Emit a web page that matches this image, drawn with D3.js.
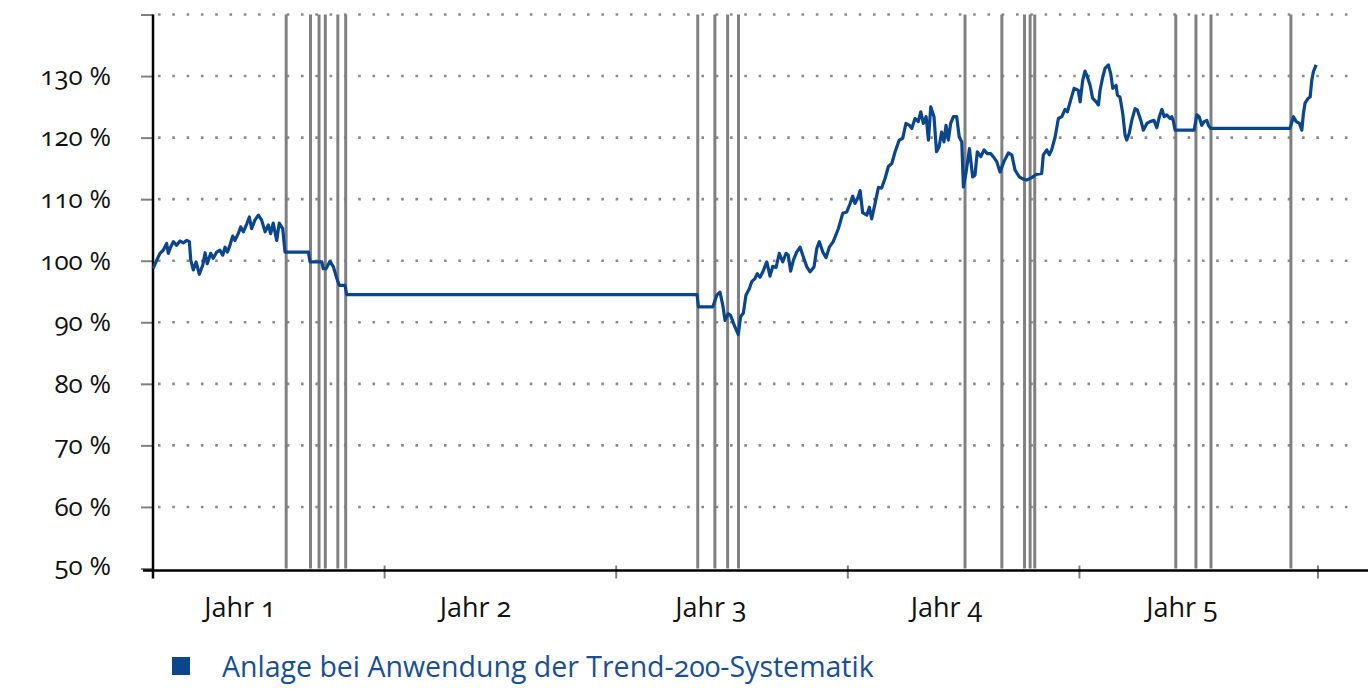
<!DOCTYPE html>
<html>
<head>
<meta charset="utf-8">
<script src="https://cdn.jsdelivr.net/npm/d3@7/dist/d3.min.js"></script>
<style>
    body { margin: 0; background: #fff; }
    text { font-family: "Open Sans", sans-serif; font-variant-numeric: oldstyle-nums; }
</style>
</head>
<body>
<div id="corpo"></div>
<script>
// rótulos e dados
var yearLabels = ["Jahr 1", "Jahr 2", "Jahr 3", "Jahr 4", "Jahr 5"];
var yearTicks = [0, 1, 2, 3, 4, 5.03];
var yTicks = [50, 60, 70, 80, 90, 100, 110, 120, 130, 140];
var legendLabel = "Anlage bei Anwendung der Trend-200-Systematik";

// Signale (Zeitpunkt in Jahren)
var signals = [0.575, 0.680, 0.717, 0.744, 0.798, 0.832,
    2.352, 2.426, 2.481, 2.528,
    3.506, 3.665, 3.763, 3.787, 3.807,
    4.416, 4.503, 4.568, 4.913];

// Anlage in % (Jahr, Wert)
var anlage = [
    [0.000, 98.7], [0.013, 99.8], [0.030, 101.2], [0.044, 101.7], [0.059, 102.8], [0.066, 101.2],
    [0.076, 102.2], [0.088, 103.1], [0.102, 102.5], [0.117, 103.2], [0.131, 102.9], [0.146, 103.3],
    [0.157, 103.1], [0.163, 100.1], [0.174, 98.5], [0.186, 99.8], [0.200, 97.8], [0.215, 99.3],
    [0.225, 101.3], [0.234, 99.5], [0.249, 101.2], [0.260, 100.4], [0.275, 101.4], [0.289, 101.7],
    [0.301, 100.9], [0.311, 102.2], [0.321, 101.4], [0.332, 102.5], [0.344, 104.0], [0.354, 103.3],
    [0.368, 104.4], [0.379, 105.5], [0.390, 104.7], [0.405, 106.0], [0.416, 107.1], [0.426, 105.2],
    [0.440, 106.6], [0.455, 107.4], [0.469, 106.6], [0.484, 104.7], [0.498, 105.8], [0.508, 104.4],
    [0.519, 106.1], [0.534, 103.3], [0.545, 106.1], [0.560, 105.2], [0.570, 101.4],
    [0.671, 101.4], [0.678, 99.8], [0.729, 99.8], [0.735, 98.7], [0.747, 98.7], [0.764, 99.9],
    [0.779, 99.0], [0.793, 97.2], [0.804, 96.0], [0.829, 96.0], [0.836, 94.5],
    [2.349, 94.5], [2.355, 92.5], [2.417, 92.5],
    [2.434, 94.4], [2.448, 94.9], [2.460, 92.8], [2.470, 90.3], [2.484, 91.4], [2.494, 91.1],
    [2.513, 89.2], [2.527, 88.0], [2.537, 90.9], [2.549, 91.5], [2.560, 94.4], [2.575, 95.5],
    [2.585, 96.6], [2.599, 97.1], [2.609, 97.9], [2.621, 97.3], [2.633, 98.2], [2.650, 99.8],
    [2.664, 97.5], [2.676, 99.1], [2.690, 98.9], [2.704, 101.2], [2.719, 99.8], [2.733, 101.2],
    [2.743, 100.9], [2.753, 98.3], [2.765, 100.1], [2.779, 101.4], [2.794, 102.2], [2.808, 100.6],
    [2.823, 99.0], [2.837, 98.2], [2.854, 99.0], [2.866, 102.0], [2.877, 103.1], [2.892, 101.4],
    [2.906, 100.5], [2.920, 102.2], [2.937, 103.1], [2.959, 105.2], [2.978, 107.7], [2.995, 107.9],
    [3.010, 109.3], [3.021, 110.5], [3.031, 109.3], [3.045, 110.4], [3.053, 111.4], [3.064, 107.8],
    [3.082, 107.4], [3.093, 108.7], [3.103, 106.8], [3.117, 109.2], [3.132, 111.9], [3.146, 111.8],
    [3.161, 113.4], [3.175, 115.3], [3.190, 115.8], [3.204, 117.7], [3.222, 119.6], [3.237, 119.9],
    [3.251, 122.3], [3.266, 122.0], [3.276, 121.5], [3.290, 123.1], [3.304, 122.6], [3.315, 124.2],
    [3.326, 122.3], [3.338, 123.4], [3.348, 119.6], [3.358, 125.0], [3.372, 123.4], [3.383, 117.7],
    [3.394, 118.5], [3.405, 120.9], [3.415, 119.3], [3.424, 122.0], [3.434, 119.6], [3.444, 122.3],
    [3.456, 123.4], [3.470, 123.4], [3.481, 120.1], [3.492, 119.3], [3.499, 112.0], [3.510, 114.2],
    [3.525, 118.2], [3.539, 113.6], [3.549, 113.9], [3.559, 117.7], [3.574, 116.9], [3.588, 118.0],
    [3.602, 117.4], [3.617, 117.4], [3.628, 116.9], [3.643, 116.1], [3.657, 114.4], [3.674, 116.1],
    [3.693, 117.5], [3.708, 117.2], [3.722, 114.7], [3.741, 113.6], [3.755, 113.3], [3.772, 113.1],
    [3.794, 113.5], [3.813, 114.0], [3.837, 114.2], [3.844, 117.2], [3.859, 118.0], [3.870, 117.2],
    [3.880, 118.0], [3.895, 120.1], [3.909, 123.1], [3.924, 123.4], [3.938, 124.6], [3.948, 124.2],
    [3.962, 126.1], [3.977, 128.0], [3.995, 127.7], [4.003, 125.8], [4.014, 129.3], [4.024, 130.8],
    [4.034, 129.9], [4.046, 128.5], [4.057, 126.4], [4.072, 125.8], [4.082, 125.3], [4.089, 127.7],
    [4.101, 129.9], [4.111, 131.3], [4.125, 131.8], [4.135, 130.4], [4.144, 128.0], [4.158, 128.5],
    [4.164, 126.9], [4.175, 126.6], [4.187, 123.9], [4.197, 120.4], [4.204, 119.6], [4.215, 120.7],
    [4.226, 122.8], [4.240, 124.7], [4.250, 124.5], [4.265, 122.8], [4.276, 121.2], [4.291, 122.3],
    [4.305, 122.6], [4.322, 122.8], [4.334, 121.6], [4.345, 123.4], [4.356, 124.6], [4.366, 123.4],
    [4.377, 123.7], [4.391, 123.1], [4.399, 123.4], [4.406, 122.6], [4.413, 121.2],
    [4.495, 121.2], [4.507, 123.7], [4.517, 123.4], [4.528, 122.0], [4.538, 122.6], [4.550, 122.8],
    [4.557, 122.0], [4.566, 121.5],
    [4.909, 121.5], [4.924, 123.4], [4.936, 122.6], [4.950, 122.3], [4.960, 121.2], [4.967, 123.9],
    [4.974, 125.6], [4.988, 126.4], [4.996, 126.6], [5.003, 129.3], [5.010, 130.7], [5.022, 131.8]
];

var width = 1368, height = 689;
var margin = {left: 153, right: 1318, top: 14.5, bottom: 568.5};
var blue = "#0b468c", grey = "#808080";

var svg = d3.select("#corpo").append("svg")
    .attr("width", width)
    .attr("height", height);

var x = d3.scaleLinear().domain([0, 5.03]).range([margin.left, margin.right]);
var y = d3.scaleLinear().domain([50, 140]).range([margin.bottom, margin.top]);

// gridlines pontilhadas
svg.append("g")
    .selectAll("line")
    .data(yTicks.filter(function(d) { return d > 50; }))
    .enter().append("line")
    .attr("x1", margin.left + 5)
    .attr("x2", 1350)
    .attr("y1", function(d) { return y(d); })
    .attr("y2", function(d) { return y(d); })
    .style("stroke", "#8a8a8a")
    .style("stroke-width", 2.6)
    .style("stroke-dasharray", "2.6,11.7");

// eixo Y (o 140 fica sem rótulo)
var yAxis = svg.append("g")
    .attr("transform", "translate(" + margin.left + ",0)")
    .call(d3.axisLeft(y).tickValues(yTicks).tickSize(12).tickPadding(30)
        .tickFormat(function(d) { return d < 140 ? d + " %" : ""; }));
yAxis.select(".domain").remove();
yAxis.selectAll(".tick line").style("stroke", grey).style("stroke-width", 2);
yAxis.selectAll(".tick text")
    .style("font-size", "26px")
    .style("font-family", "'Open Sans', sans-serif")
    .style("font-variant-numeric", "oldstyle-nums")
    .style("fill", "#111");
yAxis.select(".tick text").attr("dy", "0.22em");

// linhas de sinal
svg.append("g")
    .selectAll("line")
    .data(signals)
    .enter().append("line")
    .attr("x1", function(d) { return x(d); })
    .attr("x2", function(d) { return x(d); })
    .attr("y1", margin.top)
    .attr("y2", margin.bottom)
    .style("stroke", grey)
    .style("stroke-width", 3);

// eixo X
svg.append("g")
    .selectAll("line")
    .data(yearTicks.slice(1))
    .enter().append("line")
    .attr("x1", function(d) { return x(d); })
    .attr("x2", function(d) { return x(d); })
    .attr("y1", margin.bottom - 3)
    .attr("y2", margin.bottom + 10)
    .style("stroke", grey)
    .style("stroke-width", 2);

svg.append("line")
    .attr("x1", 143).attr("x2", width)
    .attr("y1", margin.bottom + 2).attr("y2", margin.bottom + 2)
    .style("stroke", "#000").style("stroke-width", 2.5);

svg.append("line")
    .attr("x1", margin.left).attr("x2", margin.left)
    .attr("y1", margin.top).attr("y2", margin.bottom + 10)
    .style("stroke", "#000").style("stroke-width", 2.5);

// rótulos dos anos
var labelX = d3.scaleLinear().domain([0, 4]).range([240, 1182]);
svg.append("g")
    .selectAll("text")
    .data(yearLabels)
    .enter().append("text")
    .attr("x", function(d, i) { return labelX(i); })
    .attr("y", 617)
    .attr("text-anchor", "middle")
    .style("font-size", "27px")
    .style("fill", "#111")
    .text(function(d) { return d; });

// linha da Anlage
var valueline = d3.line()
    .x(function(d) { return x(d[0]); })
    .y(function(d) { return y(d[1]); });

svg.append("path")
    .datum(anlage)
    .attr("d", valueline)
    .style("fill", "none")
    .style("stroke", blue)
    .style("stroke-width", 3.2)
    .style("stroke-linejoin", "round");

///LEGENDA
svg.append("rect")
    .attr("x", 172)
    .attr("y", 657)
    .attr("width", 18)
    .attr("height", 18)
    .style("fill", blue);

svg.append("text")
    .attr("x", 222)
    .attr("y", 677)
    .style("font-size", "28.5px")
    .style("fill", "#1a4f93")
    .text(legendLabel);
</script>
</body>
</html>
